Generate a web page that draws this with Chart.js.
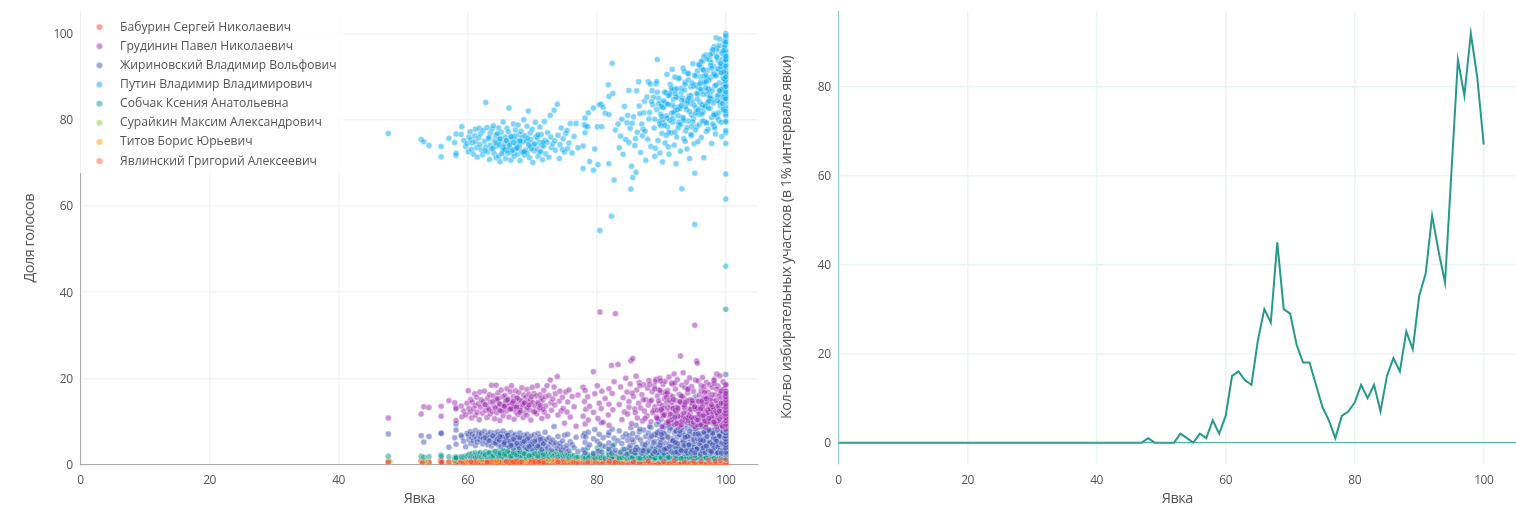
<!DOCTYPE html>
<html><head><meta charset="utf-8">
<script src="https://cdn.jsdelivr.net/npm/chart.js@4"></script>
<style>html,body{margin:0;background:#fff;overflow:hidden}canvas{position:absolute;top:0}#a{left:0}#b{left:770px}</style>
</head><body>
<canvas id="a" width="770" height="520"></canvas><canvas id="b" width="746" height="520"></canvas>
<script>
const names=["Бабурин Сергей Николаевич","Грудинин Павел Николаевич","Жириновский Владимир Вольфович","Путин Владимир Владимирович","Собчак Ксения Анатольевна","Сурайкин Максим Александрович","Титов Борис Юрьевич","Явлинский Григорий Алексеевич"];
const colors=["244,67,54","156,39,176","63,81,181","3,169,244","0,150,136","139,195,74","255,152,0","255,87,34"];
const xTicks=[0,20,40,60,80,100];
const turnout=[
47.7,52.8,53.2,54,55.9,55.9,57.1,58,58.2,58.2,
59.1,58.2,59,59.4,59.7,59.9,60.1,60.2,60.4,60.5,
60.6,60.7,60.9,61.1,61.2,61.2,61.4,61.5,61.7,61.8,
61.9,62,62.1,62.3,62.4,62.6,62.8,62.8,63,63.1,
63.2,63.4,63.5,63.5,63.7,63.8,64,64.1,64.2,64.4,
64.4,64.5,64.7,64.8,64.8,65,65.1,65.2,65.4,65.5,
65.5,65.7,65.8,65.9,66,66.1,66.2,66.3,66.4,66.4,
66.6,66.7,66.8,66.9,67,67.1,67.2,67.2,67.4,67.5,
67.6,67.7,67.8,67.9,68,68,68.1,68.3,68.4,68.5,
68.6,68.7,68.8,68.9,69,69.1,69.2,69.2,69.4,69.5,
69.6,69.7,69.8,69.8,70,70.1,70.2,70.3,70.5,70.6,
70.7,70.8,70.9,71.1,71.2,71.2,71.4,71.5,71.6,71.8,
71.9,72,72.1,72.3,72.4,72.6,72.8,72.9,73,73.2,
73.4,73.5,73.6,73.9,74,74.2,74.3,74.5,74.7,74.8,
75,75.2,75.4,75.5,75.7,75.9,76.2,76.5,76.8,77.1,
77.9,77.9,78.1,78.2,78.2,78.3,78.6,78.7,78.9,79.5,
79.5,79.7,80.1,80.2,80.4,80.5,80.7,80.8,81,81.3,
81.8,81.9,81.9,81.9,82.3,82.4,82.5,82.7,82.9,83.3,
83.5,83.7,83.9,84.1,84.3,84.5,84.7,84.8,85,85,
85.2,85.3,85.4,85.6,85.7,85.9,86.1,86.2,86.3,86.5,
86.6,86.8,87,87.1,87.3,87.4,87.6,87.8,87.9,88,
88.1,88.3,88.4,88.6,88.7,88.9,89,89.2,89.3,89.4,
89.5,89.6,89.7,89.8,89.9,90,90.1,90.2,90.3,90.4,
90.5,90.6,90.8,90.9,91,91.1,91.2,91.3,91.4,91.5,
91.6,91.7,91.8,91.9,92,92.1,92.2,92.3,92.4,92.5,
92.6,92.8,92.9,93,93.1,93.2,93.3,93.4,93.5,93.6,
93.7,93.8,93.9,94,94.1,94.2,94.3,94.4,94.5,94.6,
94.7,94.8,94.9,95,95.1,95.2,95.3,95.4,95.5,95.6,
90.2,90.7,91.2,91.7,92.2,92.7,93.3,93.7,94.2,94.7,
95.7,95.8,95.9,96,96.1,96.2,96.3,96.4,96.5,96.6,
96.7,96.8,96.9,97,97.1,97.2,97.3,97.4,97.5,97.6,
97.7,97.8,97.9,98,98.1,98.2,98.3,98.4,98.5,98.6,
98.7,98.8,98.9,99,99.1,99.2,99.3,99.4,99.5,99.6,
99.7,99.8,99.9,100,100,100,100,100,100,100,
95.2,95.7,96.2,96.7,97.2,97.7,98.2,98.7,99.2,99.7,
95.6,96.1,96.6,97,97.6,98.1,98.6,99.1,99.6,99.9,
95.7,96.2,96.7,97.1,97.7,98.2,98.7,99.2,99.7,99.8,
96.4,96.9,97.3,97.9,98.4,98.9,99.3,99.5,99.8,99.9,
100,100,100,100,100,100,100,100,100,100,
100,100,100,100,100,100,100,100,100,100,
90.1,90.7,91.1,91.7,92.1,92.6,93.1,93.6,94.1,94.6,
87.2,88.2,88.8,89.1,89.3,89.6,89.8,90.4,90.9,91.4,
62.7,63.3,63.9,64.3,64.6,65.3,65.6,66,66.5,66.9,
67.3,67.7,68.2,68.6,69.3,69.9,70.4,70.9,71.3,71.7,
64.9,65,65.7,66.2,66.7,67.1,67.6,68.1,68.8,69.5,
85.5,86,86.7,87.5,88.5,89,89.4,89.9,90.3,90.8,
91,91.3,91.6,91.9,92.1,92.3,92.5,92.8,93,93.2,
93.4,93.6,93.8,94,94.2,94.4,94.6,94.9,95,95.1,
95.3,95.4,95.6,95.8,96,96.2,96.4,96.5,96.6,96.8,
96.9,97,97.1,97.3,97.4,97.5,97.7,97.8,97.9,98,
98.1,98.2,98.3,98.5,98.6,98.7,98.8,98.9,99,99.1,
99.2,99.3,99.4,99.5,99.6,99.7,99.8,99.9,100,100,
95.5,95.9,96.3,96.7,97.2,97.6,98,98.4,98.8,99.2,
99.4,99.6,99.7,99.8,99.9,99.9,100,100,100,100,
90,90.5,91.1,91.8,92.4,92.9,93.5,94.1,94.8,95.3,
92.2,92.6,93.1,93.7,94.3,94.7,95.2,95.7,96.1,96.5,
97,97.4,97.8,98.2,98.6,99,99.3,99.5,99.7,99.8,
100,100,100,100,100,100,100,100,100,100];
const putin=[
76.8,75.4,74.9,74,71.4,73.8,75.7,74.7,71.7,72.2,
78.4,76.7,76.6,75.2,73.8,74.5,72.6,76,77.2,75.4,
73.1,74.6,72,76.3,77.8,74.9,73.5,71.3,75.8,78,
74.2,76.7,73,71.9,77.5,75,84,73.7,78.2,72.5,
75.6,70.8,76.9,74.1,73.2,77.9,78.6,72.2,75.3,71.2,
76.4,73.9,74.8,71.6,78.1,70.3,75.5,77.1,73.4,72.7,
79.5,74.4,76,71,75.1,78,72.9,77.2,82.7,73.6,
74.6,70.6,76.2,72.3,75.7,79,73.1,71.5,77.6,74.3,
75.2,72,78.8,73.5,74.1,76.5,70.5,77.3,72.6,75.9,
74.9,80,71.8,76.3,73,75,78.5,72.2,82,74.5,
71.2,76.9,73.7,75.4,77.8,70.1,74.2,72.8,79.4,76.1,
73.3,75.8,71.5,74.7,78.3,72.4,76.6,74,70.7,73.9,
79.6,75.2,72.1,74.8,77,71.3,81,76,73.5,74.4,
82.2,75.1,72.9,83.6,76.4,71,74.2,78.1,73.1,75.6,
72.5,76.8,77.5,73.3,74.6,79.1,72.3,76.1,79.1,73.5,
68.7,73.9,78.9,80.4,77,78.5,78.4,81.6,70.3,82.7,
68.3,73.2,78.4,69.6,83.5,54.3,83.6,78.4,82.9,81.5,
88.1,85.4,81.2,69.8,57.6,93.1,86.1,66,77.6,79,
73.5,76.2,80.1,72,83.1,75.4,79.3,81,86.8,74.7,
78,63.9,69.2,66.6,80.7,74,67.8,86.7,77.1,88.8,
83.2,72.4,79,76.3,81.6,84.3,70.6,85.3,75.5,88.8,
80.2,88.3,73.8,86.7,83.5,78.1,71.5,88.3,82.4,94,
75.2,85,79.6,72.3,81.3,84,76.8,70.2,82.8,79.2,
86.4,74.6,80.9,90.5,78.3,83.6,72,85.7,88.2,76.9,
81.5,91.7,79.4,84.7,74.1,87,82.2,69.8,76,85.2,
89.6,78.8,83,72.7,86.3,64,80.6,92,75.6,84.2,
88.7,77.4,82.4,73.2,90.8,79.7,85.5,71,83.8,87.6,
76.3,84.5,93,80.3,74.4,55.7,88.1,82.7,78.4,91.3,
80,83.9,77.1,86.8,82.9,79.4,85.1,75,89.2,81.1,
87.5,92.8,78.9,84,90,75.9,86.7,93.5,81.8,71.2,
88.9,83.3,95,79.2,85.9,91.5,77.8,87.2,94,82.6,
89.8,74.5,96,84.7,92.4,81.4,87.9,76.7,99,90.3,
85.4,93.8,79.9,88.5,98.7,83.1,91,76.1,95.9,86.2,
89.4,97.3,82.5,100,98.2,95.6,93.2,90.7,88,85.8,
67.6,74.9,82.8,90.1,86.6,93.3,78.5,96.7,84.3,91.9,
81.9,88.7,94.6,77.3,85.6,90.9,96.2,83.9,87.4,94.9,
86,92.1,79.6,89.7,84.9,97,80.6,92.9,88.4,93.6,
83.5,90.4,87.1,95.3,81.2,91.6,86.9,94.1,85.2,89.1,
61.6,67.4,46,77,79.5,81.4,83,84.2,85.5,86.8,
88,89.2,90.4,91.5,92.7,93.8,95,96.1,97.5,99,
80.8,86.3,73.7,83.4,89.9,78,87.3,91.2,84.6,76.6,
77.8,81.7,85.2,73.4,88.9,83.7,79.1,84.4,80.4,86.1,
72.8,75.9,73.4,74.6,76.8,72.1,73.7,75.2,74.1,72.9,
76.2,73.6,74.9,72.4,75.7,73.2,74.4,76.5,72.7,74.8,
74.2,75.6,73.1,72.3,76,74.7,73.3,75.1,72.6,74,
79.2,75.6,81.4,77.3,84.2,80.1,86.4,78.6,82.9,76.4,
83.6,79.8,87.3,81.7,77.1,85.2,82.3,89.6,78.9,84.5,
80.4,86.9,83,78.2,90.7,81.9,85.6,79.5,87.8,83.4,
77.6,90.1,84.8,81.2,88.3,93.6,79.7,85.9,91.4,83.1,
87.4,79.3,94.1,82.7,89.2,85.1,92.6,80.5,86.7,96.3,
83.9,90.5,78.1,88,94.8,84.4,91.8,81.6,97.2,86.5,
92.3,79.4,95.4,85.3,89.7,82.1,98.1,87.6,94.2,90.8,
86.1,92.7,81.3,88.6,84,95.1,79,90.2,85.7,93.1,
87,82.4,91.1,96.9,84.7,89,77.5,93.9,86.4,81,
83.1,78.7,85.6,80.3,87.2,82.6,79.8,84.1,88.5,81.5,
86,80.9,83.3,88.2,85,78.4,90.3,82.2,87.1,91.6,
88.8,84.3,92,81.1,94.5,86.8,90.9,83.7,96,89.5,
74.5,79.6,82,84.9,87.7,89.9,92.4,94.7,98,99.5];
const grudinin=[
10.8,11.7,13.4,13.2,13.5,11.2,14.8,14.3,13.2,12.9,
11.1,10.2,13.6,12.4,11.5,14.2,17.1,13,12.2,15.1,
10.8,14.5,12.9,16.4,13.7,11.4,15.6,12.1,14.1,10.4,
16.8,13.3,15,11.9,14.6,17,12.6,13.8,10.9,15.4,
13.1,16.2,11.7,14.4,18.4,12.3,15.9,13.5,10.6,18.4,
14.9,12,16.6,13.2,15.3,10.2,14,17.3,12.7,15.7,
11.3,13.9,16,14.7,12.4,17.6,13.4,15.2,11,14.3,
16.9,12.8,18.3,14.5,13,15.8,10.5,13.6,17.1,12.2,
15.5,14.1,11.6,16.7,13.3,15,12.5,14.8,17.8,13.7,
10.9,16.1,14.2,12,15.6,13.1,17.4,11.4,14.6,16.3,
12.7,15.1,13.9,10.3,17.9,14.4,12.3,16.5,13.5,15.9,
11.8,18.3,14,12.9,16.2,13.2,15.4,10.7,14.9,17.2,
12.1,15.7,13.6,18.3,11.2,16,19.6,14.3,12.6,15.2,
18,13.8,16.4,20.4,11.5,14.7,17,12.4,15.6,13,
9.6,16.8,12.2,14.5,17.3,11,15.8,13.4,8.9,16.1,
17.9,11.2,14.6,9.4,17.2,12.8,15.7,10.3,13.5,21.5,
12.1,16.4,18.3,10.7,14.2,35.4,13,17,9.8,15.3,
11.5,17.6,14,9.1,23,16.5,12.7,19.2,35,23.2,
13.9,18,10.4,15.5,12.2,20,16.8,11.7,14.6,13.3,
18.7,24.1,9.5,24.6,15.8,12.9,20.5,17.3,10.8,14.2,
19,13.1,16.2,10.1,18.5,12.4,15,11.3,17.7,13.8,
19.5,14.7,9.9,16.9,12,18.2,13.4,19.8,11.1,15.9,
10.6,17.4,14.1,20,12.6,16.7,8.8,13.7,18.6,11.5,
15.2,19.3,9.7,14.4,17.1,12.3,20.3,10.9,16,13.6,
18.9,11.8,15.7,13,21,9.3,17.5,14.8,10.2,19.7,
12.5,16.3,8.9,25.2,14.1,18.4,11.6,21.3,15.4,13.2,
17.8,10.5,19.1,12.2,16.6,9.6,14.9,20.1,11.9,15.1,
18.1,13.5,10.7,17,12.8,32.3,19.6,14.6,24,23.5,
12,16.8,9.4,18.7,13.3,11.2,15.8,10,17.6,14.2,
19.4,12.7,16.1,9.2,14.8,18.3,11,20.2,13.6,15.5,
10.3,17.2,12.1,19,14.3,9.8,16.7,11.5,18.5,13.1,
15.4,10.6,17.9,12.4,14.7,19.8,9.5,16.2,11.3,21,
13.9,18.2,10.1,15.9,20.6,12.6,17.3,9,14.4,19.2,
11.7,16.5,13.2,18.5,12,9.6,15.1,10.4,16.8,14,
8.8,12.3,17.1,10.7,15.6,13.5,19.5,11,16.4,14.6,
9.2,13.8,18.1,11.9,15,10.2,17.5,12.8,14.2,16,
10.9,13.1,16.7,9.9,12.5,18.8,11.4,15.3,13.4,17.6,
14.9,9.4,12.9,16.2,10.5,14.1,17,11.8,15.7,13,
8.2,9,9.8,10.6,11.4,12.2,13,13.8,14.6,15.4,
16.2,17,18.5,9.4,10.2,11,11.8,12.6,13.4,14.2,
12.4,16.3,9.7,14.5,18.9,11.2,15.9,13.3,17.4,10.3,
15,18.6,12.5,19.3,10.8,14.8,17.2,13.1,16.6,11.6,
13.9,12.7,14.6,13.1,15.2,12.4,13.6,14.9,12.9,14.2,
13.4,15.4,12.6,14,13.2,15.7,12.2,14.4,13.7,12.8,
14.1,12.5,13.5,15,12.9,14.7,13.3,12.1,14.3,13.8,
16.6,12,18.3,10.7,14.9,17.5,12.6,19.4,11.3,15.6,
13.2,14.9,10.4,15.1,11,12.2,13.3,9.6,14.5,10.1,
11.1,13.8,10.7,14.7,10.2,12.9,12.8,14.2,9.8,13.3,
12.9,10.5,13.1,14.7,11.1,9.3,13.6,12.7,11.6,15.3,
8.6,14.4,11.6,12.1,13.4,10,13.3,10.6,11.2,12.2,
9.9,13.1,12.7,14.9,8.7,11.7,11.4,10.2,13.1,10.6,
12.7,12.3,9.1,13.6,14.1,10.8,11.2,12.5,13.8,9.6,
10.4,11.7,14.6,10.1,12.6,12.9,13.4,9.4,13.5,11.8,
11,14.3,9.7,13.1,12.2,8.9,12,10.5,11.4,13.7,
12.8,11.5,10,13,9.5,14.6,12,10.8,14.8,10.9,
12.6,13,9.2,14.4,11.3,10.9,13.4,10.3,12.9,11.3,
15.3,10.7,13.9,9.8,12,12.4,14.2,8.8,11.5,11.8,
9.3,10.1,10.9,11.7,12.5,13.3,14.1,14.9,15.7,16.5];
const zhirinovsky=[
7.1,6.7,5.2,6.5,7.3,7.2,4,6.2,9.4,8,
6.4,4.7,6.8,5.4,4.1,7.2,6.9,5.8,7.6,4.9,
6.3,7.1,5.5,6.6,4.4,7.9,6,5.2,6.9,7.4,
5.7,6.4,7.2,4.8,6.1,7.7,5.3,6.7,5.9,4.6,
7,6.3,5.6,7.5,4.3,6.5,5.1,7.3,6.2,4.9,
5.4,6.8,7.6,4.5,6,5.7,7.1,4.2,6.6,5.2,
7.8,4.7,6.3,5.5,7.2,4.4,6.9,5.9,4.1,6.1,
5,7.4,4.8,6.4,5.6,3.8,6.7,5.3,7,4.6,
6.2,5.1,4.3,6.5,5.7,3.9,7.3,4.9,6,5.4,
4.5,6.8,5.2,4,6.3,5.8,3.7,7,4.7,5.5,
6.1,4.2,5,6.6,3.6,5.3,4.8,6.9,4.4,5.9,
3.9,5.6,7.2,4.6,6.4,4.1,5.1,3.5,6,4.9,
5.4,7.5,4.3,5.8,3.8,6.2,4.7,5.2,3.4,5.7,
8.8,4.5,5,3.7,6.5,4.2,4.9,3.3,5.5,4,
6.8,3.6,4.4,7,3.2,5.3,4.6,3.9,6.3,3,
3.4,6.6,7.2,5.1,2.7,6.4,3.9,7.5,4.6,2.5,
6,8.1,5.4,3.1,7,4.7,9.7,2.9,6.2,4.2,
6.8,3.6,7.4,5,2.6,8.2,4.3,6.1,3.3,5.5,
7.8,2.8,4.9,6.4,3.5,7.1,2.4,5.6,3.9,6.7,
4.4,8.5,3,7.2,5.2,2.7,9.1,4,6.3,3.4,
7.6,5.7,2.6,4.7,8,3.7,6.5,2.9,5,7.3,
3.2,6.1,8.6,4.2,2.5,7,5.4,3.6,9.3,6.8,
4.5,2.8,7.8,5.9,3.3,10.5,6.2,4.1,8.3,2.6,
7.1,5,3.5,9,6.6,2.9,4.6,7.9,5.5,3.1,
8.7,6,2.7,10.3,4.3,7.3,5.2,3.8,9.5,6.4,
2.5,8.1,4.9,6.9,3.4,11,5.7,7.5,3,9.2,
4.4,6.3,2.8,8.4,5.1,10.6,3.7,7,5.9,2.6,
9.7,4.7,6.7,3.2,8,5.4,15.7,2.9,7.4,4.1,
6.1,9,3.5,5.6,7.7,2.7,10,4.8,6.5,8.3,
3.3,5.3,11.5,7.2,2.4,9.4,4.5,6.8,3.8,8.6,
5.8,2.9,10.4,6.2,4.2,7.6,3.1,9.8,5,12.2,
2.6,7.9,4.6,6.4,11,3.4,8.2,5.5,2.8,9.6,
6.7,4,13,7.3,3.2,10.2,5.2,8.8,2.5,6,
4.7,11.8,7.5,3.6,20.9,14,5.6,8.4,2.9,10.6,
6.9,3.9,9.2,5.3,7.8,2.7,12.6,4.4,8,6.3,
3.5,10.9,5.9,7.1,2.6,9.4,4.9,6.6,11.4,3,
8.6,5.1,7.4,3.7,10,6.1,2.8,8.9,4.3,12.4,
5.7,9.8,3.3,7,4.6,11.2,6.4,2.7,8.2,5.2,
2.2,3,3.8,4.6,5.4,6.2,7,7.8,8.6,9.4,
10.2,11,12,13,2.6,3.4,4.2,5,5.8,6.6,
7.4,3.6,9,5.5,11.3,4.2,8,6.8,2.6,10.1,
3.2,8.8,5.1,6.9,2.7,9.9,4.4,7.2,3.7,8.4,
6.2,5.5,6.7,5,5.9,6.4,4.7,6.1,5.3,4.5,
5.7,6.3,4.9,5.2,6,4.6,5.4,4.3,5.8,4.8,
5.6,6.5,5.1,6.8,4.4,5.9,4.9,6.2,5.4,4.2,
5.8,3.4,8.2,4.6,6.6,3,7.4,5.1,8.8,3.7,
6.3,4.2,9.5,5.6,2.8,7.8,4.9,6.9,3.5,8.5,
5.3,10.2,3.2,6.6,4.5,7.6,2.9,9.1,5.8,4,
7.1,3.6,6,8.7,4.8,10.8,3.1,5.5,7.5,2.7,
9.3,4.3,6.5,3.4,8.1,5.2,11.6,2.8,7.2,4.7,
6.2,3.8,9.9,5.7,2.6,7.9,4.1,12,6.8,3.3,
8.4,5,3,7.7,10.6,4.5,6.4,2.9,9,5.4,
3.6,6.7,8.9,4.2,11.8,3.1,7.3,5.9,2.7,9.6,
4.9,7.5,3.4,6.1,10.3,8.2,2.8,5.2,12.8,4,
7,3.5,9.2,5.5,2.9,7.7,4.4,6.5,3.3,8.3,
5.1,8.6,3.2,6.3,4.6,9.4,2.7,7.1,5.7,3.9,
4.3,7.9,3,10.1,5.4,6.6,2.6,8.7,4.8,11.1,
3.8,4.5,5.2,5.9,6.6,7.3,8,8.7,9.5,11.8];
const sobchak=[
1.9,1.9,1.7,1.8,2.2,1.9,1.8,1.6,1.8,1.7,
1.6,1.5,1.8,1.7,2,1.9,2.1,2.3,1.8,2.4,
1.9,2.5,2,2.2,1.7,2.7,2.3,1.9,2.6,2,
2.4,2.8,1.8,2.2,2.5,1.9,2.9,2.1,2.4,1.7,
2.6,2,2.3,2.8,1.8,2.5,2.2,3,1.9,2.4,
2.7,2,2.2,3.2,1.8,2.5,2.9,2.1,2.4,1.7,
3.3,2.3,2.6,4.7,2,2.8,2.2,1.9,3.1,2.5,
2.1,4.2,2.7,2.4,1.8,3.5,2.2,2.9,2,2.6,
3.8,2.3,2.5,1.9,3.1,2.7,2.1,4.4,2.4,2,
2.8,3.3,2.2,2.6,1.8,3,2.4,2.9,3.6,2.1,
2.5,3.9,2.2,2.8,1.9,3.2,2.4,4,2.6,2.1,
3.4,2.3,2.9,2,3.7,2.5,2.2,3.1,2.7,1.8,
2.4,3.3,2.1,2.8,2.5,1.9,3,2.3,2.6,2,
2.7,2.2,3.1,2.4,1.8,2.6,2.1,2.9,2.3,1.9,
2.5,2,2.7,2.2,1.7,2.4,1.9,2.1,1.6,1.8,
1.9,1.6,2.1,1.4,3.2,1.7,2.3,1.5,2,1.8,
2.6,1.5,3.8,1.7,2.4,3.3,1.6,4.3,2,1.4,
2.8,1.6,3.5,2.2,1.5,3,1.8,4.7,2.5,1.7,
1.5,2.9,1.6,3.6,1.9,2.3,1.4,3.2,1.7,2.6,
1.5,3.4,2,1.6,2.7,1.4,3.9,1.8,2.2,1.5,
2.9,1.6,3.3,2,1.5,2.4,1.7,3.7,1.4,2.6,
1.8,3,1.5,2.2,3.5,1.6,2.7,1.9,1.4,3.1,
1.7,2.4,1.5,3.8,2,1.6,2.8,1.4,2.2,3.3,
1.5,1.8,2.6,1.4,3.6,2.1,1.6,2.9,1.7,2.4,
3.1,1.5,2,4,1.6,2.5,1.4,3.4,1.8,2.2,
1.5,2.8,1.7,3.7,1.4,2.3,1.9,3,1.6,2.6,
4.3,1.5,2.1,1.7,3.2,1.4,2.4,1.8,2.9,1.6,
3.5,2,1.5,2.7,1.4,4.6,2.2,1.7,3.1,1.6,
2.5,1.4,3.3,1.8,2.1,1.5,2.8,1.7,3.8,1.6,
2.3,1.5,3,1.9,4.2,1.4,2.6,1.7,3.4,2,
1.5,2.9,1.6,5,1.4,2.4,3.6,1.8,2.2,4.5,
1.5,2.7,1.7,3.2,1.4,5.4,2,3.9,1.6,2.5,
4.8,1.4,3,1.8,6.2,2.3,1.5,3.5,1.7,2.8,
1.4,4.1,2.1,36,11,8.5,7,5.5,4.2,3.1,
1.6,2.6,1.4,3.7,1.8,4.6,2.2,1.5,3.2,5.8,
1.7,2.4,1.4,4,2,1.6,3,1.5,2.7,3.5,
1.8,5.2,1.5,2.2,3.8,1.4,2.9,1.7,4.4,2.5,
1.6,3.3,1.5,2,4.9,1.4,2.6,1.8,3.6,6.6,
1.2,1.6,2,2.4,2.8,3.2,3.6,4,4.4,4.8,
5.2,5.6,6,6.5,7.5,9.5,1.4,1.8,2.2,2.6,
1.5,3.1,1.7,4.1,1.4,2.5,1.9,3.4,1.6,2.1,
3,1.6,2.4,1.4,3.7,1.8,2.2,1.5,2.8,1.7,
2.3,2.7,2,3,2.5,1.9,3.2,2.2,2.6,2.1,
2.4,2.9,2,2.6,3.4,2.2,2.5,1.9,2.8,2.3,
2.1,2.6,2.4,3.1,1.9,2.7,2.2,3,2.5,2,
1.6,2.6,1.4,3.5,1.8,1.5,2.3,1.7,3,1.4,
2.1,1.5,3.3,1.7,2.5,1.4,3.9,1.6,2,2.8,
1.5,3.6,1.8,1.4,2.7,1.6,4.4,2.2,1.5,3.1,
1.7,2.4,1.4,3.8,1.6,2,5.1,1.5,2.9,1.8,
1.4,3.3,2.3,1.6,4.6,1.5,2.6,1.7,3.7,1.4,
2.1,5.6,1.5,2.8,1.7,4,1.4,3.2,2.4,1.6,
3.5,1.5,2,6.4,1.7,2.7,4.3,1.4,1.9,3,
1.6,2.5,3.9,1.5,2.2,1.8,5.3,3.4,1.4,2.9,
1.7,4.9,1.5,2.4,3.1,2,7.2,1.6,3.7,2.6,
1.5,2.2,1.7,3.3,1.4,2.8,1.6,3.9,2,1.5,
1.8,3,1.4,2.5,4.2,1.6,2.1,3.6,1.5,2.7,
1.6,4.7,2,1.4,3.2,2.6,1.7,5.7,1.5,2.3,
2.4,2.9,3.4,3.9,4.4,4.9,5.5,6,8,10];
const yavlinsky=[
.7,.8,.6,.5,.9,.5,.6,.9,.5,.7,
.6,.4,.8,.5,.4,1,.7,.5,1,.6,
.8,.4,1.1,.6,.9,.5,1,.7,.4,1.1,
.6,.9,.5,1.2,.7,.4,1,.8,.5,1.1,
.6,.9,1.3,.5,.8,.4,1.1,.7,1,.5,
1.2,.6,.9,.4,1.3,.7,1,.5,1.1,.8,
.5,1.3,.7,1,.4,1.2,.6,.9,1.4,.5,
1.1,.8,.4,1.3,.6,1,.7,1.2,.5,.9,
1.5,.6,1.1,.4,1.3,.8,1,.5,1.4,.7,
1.2,.5,.9,1.5,.6,1.1,.4,1.3,.8,1,
.5,1.4,.7,1.2,.4,1,.8,1.3,.5,1.1,
.6,1.4,.9,.4,1.2,.7,1,.5,1.3,.8,
.5,1.1,.6,1.3,.9,.4,1.2,.7,1,.5,
1.1,.6,.9,.4,1.2,.7,1,.5,.8,1.1,
.6,.9,.4,1,.7,.5,.8,.4,.6,.5,
.8,.5,1,.6,.9,.4,1.1,.7,.5,1,
.4,.8,1.2,.6,.9,.5,1.1,.7,.4,1,
.8,.5,1.2,.6,.9,.4,1.1,.7,.5,1,
.6,1.2,.4,.9,.7,1.1,.5,1,.8,.4,
1.2,.6,.9,.5,1.3,.7,.4,1,.8,1.1,
.5,.9,.6,1.2,.4,1,.7,1.1,.5,.8,
1.3,.6,.9,.4,1.1,.7,1,.5,1.2,.8,
.5,1,.7,1.3,.4,.9,.6,1.1,.8,.5,
1.2,.7,.9,.4,1,.6,1.3,.5,.8,1.1,
.6,.9,.5,1.2,.7,.4,1,.8,1.4,.5,
.9,.6,1.1,.4,1.3,.7,1,.5,.8,1.2,
.6,1.4,.5,.9,.7,1.1,.4,1,.6,1.3,
.8,.5,1.1,.7,.4,1.5,.9,.6,1,1.2,
.5,.8,1.3,.6,1,.4,1.1,.7,.9,.5,
1.2,.6,.9,.4,1,.7,1.4,.5,.8,1.1,
.6,1.3,.4,.9,.7,1,.5,1.2,.8,.4,
1,.6,1.1,.5,.9,1.3,.7,.4,.8,1,
.5,1.2,.6,.9,.4,1.1,.7,1,.5,.8,
1.2,.4,.9,.6,1,.3,1.2,.7,.5,.9,
.6,1,.4,.8,1.1,.5,.9,.7,1.2,.4,
.8,.5,1,.6,1.1,.4,.9,.7,.5,1.2,
.6,1,.8,.4,1.1,.5,.9,.7,1,.4,
.7,1.1,.5,.9,.6,1,.4,.8,1.2,.5,
.3,.5,.7,.9,1.1,1.3,.4,.6,.8,1,
1.2,.2,.5,.7,.9,1.1,.4,.6,.8,1,
.6,.9,.4,1.2,.7,1,.5,.8,1.1,.6,
.9,.5,1.1,.7,.4,1.2,.6,1,.8,.5,
1,.6,1.3,.8,.5,1.1,.7,1.2,.4,.9,
.6,1.4,.8,1,.5,1.2,.7,1.3,.9,.4,
1.1,.7,.5,1.3,.9,.6,1.2,.4,1,.8,
.7,1.1,.5,.9,1.3,.6,1,.4,.8,1.2,
.5,1,.7,1.2,.4,.9,.6,1.1,.8,1.3,
.7,.4,1,.6,1.2,.8,.5,1.1,.9,.4,
1.3,.6,.9,.5,1.1,.7,1.2,.4,1,.8,
.6,1.1,.8,.4,1,.7,1.3,.5,.9,.6,
1.2,.4,.8,1,.6,1.1,.5,.9,.7,1.3,
.5,.9,.7,1.2,.4,1,.6,.8,1.1,.3,
.9,.6,1.1,.5,1.3,.7,1,.4,.8,1.2,
.6,1,.4,.8,1.2,.7,.5,1.1,.9,.4,
1.1,.6,.9,.5,1,.7,1.3,.4,.8,1.2,
.8,1.2,.5,1,.7,.9,.4,1.1,.6,1.3];
const baburinX=[47.7,53,56,60.5,63,66,68.4,71,74,78.6,82,85.7,88,90.4,92,93.6,95,96.2,97.3,98.4,99.2,100];
const baburin=[.5,.4,.5,.6,.5,.7,.6,.5,.6,.5,.7,.6,.8,.7,.9,.6,.8,.7,1,.8,.9,1.1];
const surajkinX=[48,53.4,58,62.2,65.7,68.9,72.5,75.6,78.2,79.4,80.5,81.9,83.1,84,85.2,86,87.1,88.6,89.2,90.3,90.8,91.2,91.7,92.4,92.8,93.3,93.8,94.1,94.6,95,95.3,95.6,96.1,96.4,96.8,97.2,97.5,97.9,98.3,98.7,99,99.4,99.8,100,100];
const surajkin=[.7,.8,.9,1,.9,1.2,1.1,1.2,1.7,2.1,1.3,2.6,2,1.5,1.6,2.2,1.4,2.1,2.7,1.8,2.3,2.5,1.6,1.7,2.9,2.3,1.6,1.9,3.1,2.8,1.9,2.1,1.8,3,2.6,2.2,1.6,3,1.9,2.5,2.4,1.7,2.7,2,3.2];
const titovX=[53,60,64.5,69,73,77.2,79,82,84.5,86.4,88.9,90.5,91,91.6,92.2,92.7,93.5,94,94.4,95.2,95.9,96.5,97.1,97.8,98.2,98.9,99.5,100];
const titov=[.6,.7,.9,.8,1,1.4,.9,1.6,1.2,1.5,1.1,1.7,2.4,2,1.6,1.4,2.2,2.8,1.6,2.6,1.8,2.3,1.5,2.8,1.9,2.4,1.7,2.1];
const zeroX=[0,105];
const zeroY=[0,0];
const hist=[0,0,0,0,0,0,0,0,0,0,0,0,0,0,0,0,0,0,0,0,0,0,0,0,0,0,0,0,0,0,0,0,0,0,0,0,0,0,0,0,0,0,0,0,0,0,0,0,1,0,0,0,0,2,1,0,2,1,5,2,6,15,16,14,13,23,30,27,45,30,29,22,18,18,13,8,5,1,6,7,9,13,10,13,7,15,19,16,25,21,33,38,51,43,36,61,86,78,92,82,67];

const FONT='"Open Sans"', TXT='#555';
const pts=(xs,ys)=>ys.map((y,i)=>({x:xs[i],y}));
const series=[pts(baburinX,baburin),pts(turnout,grudinin),pts(turnout,zhirinovsky),pts(turnout,putin),pts(turnout,sobchak),pts(surajkinX,surajkin),pts(titovX,titov),pts(turnout,yavlinsky)];
const icons=colors.map(c=>{const k=document.createElement('canvas');k.width=k.height=8;const g=k.getContext('2d');g.fillStyle=`rgba(${c},.5)`;g.beginPath();g.arc(4,4,3,0,7);g.fill();return k;});
const tick={font:{family:FONT,size:12},color:TXT,autoSkip:false,includeBounds:false,maxRotation:0,padding:8};
const xTick={...tick,padding:9};
const yTick={...tick,stepSize:20,labelOffset:1};
const ttl=(t,pad)=>({display:true,text:t,color:TXT,font:{family:FONT,size:14.5},padding:pad});
const tight={id:'tight',beforeDraw(c){c.ctx.letterSpacing='-0.5px';}};
const noPadY=s=>{s.paddingTop=0;s.paddingBottom=0;};
const noPadX=s=>{s.paddingLeft=0;s.paddingRight=0;};
const legendPlace={id:'legendPlace',
 beforeInit(c){const l=c.legend;l._layers=()=>[{z:1,draw:a=>l.draw(a)}];const d=l.draw;
  l.draw=function(){const g=c.ctx;g.save();g.letterSpacing='0px';g.fillStyle='rgba(255,255,255,.8)';g.fillRect(76,10,267,163);d.call(l);g.restore();};},
 afterLayout(c){const l=c.legend;l.left=78;l.top=14;l.right=345;l.bottom=464;}};
new Chart(document.getElementById('a'),{type:'scatter',
 data:{datasets:names.map((n,i)=>({label:n,data:series[i],clip:0,backgroundColor:`rgba(${colors[i]},${i===7?.78:.5})`,borderColor:`rgba(255,255,255,${i===7?.3:.5})`,borderWidth:.7,pointRadius:3,pointHoverRadius:3}))},
 plugins:[legendPlace,tight],
 options:{responsive:false,animation:false,layout:{padding:{left:21,right:12,top:12,bottom:12}},
  plugins:{tooltip:{enabled:false},legend:{position:'chartArea',align:'start',labels:{font:{family:FONT,size:12.15},color:TXT,usePointStyle:true,pointStyleWidth:29,padding:7,
    generateLabels:c=>Chart.defaults.plugins.legend.labels.generateLabels(c).map((it,i)=>({...it,pointStyle:icons[i],lineWidth:0}))}}},
  scales:{
   x:{type:'linear',min:0,max:105,afterBuildTicks:s=>{s.ticks=xTicks.map(v=>({value:v}))},afterFit:s=>{s.height=43.5;noPadX(s)},grid:{color:'#f3f3f3',lineWidth:1.5,drawTicks:false},border:{color:'#aaa',width:1},ticks:xTick,title:ttl('Явка',{top:6,bottom:0})},
   y:{type:'linear',min:0,max:105,afterFit:s=>{s.width=59.5;noPadY(s)},grid:{color:'#f3f3f3',lineWidth:1.5,drawTicks:false},border:{color:'#aaa',width:1},ticks:yTick,title:ttl('Доля голосов',{top:0,bottom:8})}
  }}});
new Chart(document.getElementById('b'),{type:'line',
 data:{datasets:[
  {label:'zero',data:pts(zeroX,zeroY),borderColor:'#3aa99b',borderWidth:1,pointRadius:0},
  {label:'hist',data:hist.map((y,x)=>({x,y})),borderColor:'#26998a',borderWidth:2,pointRadius:0,tension:0}]},
 plugins:[tight],
 options:{responsive:false,animation:false,layout:{padding:{left:8,right:0,top:11,bottom:12}},
  plugins:{tooltip:{enabled:false},legend:{display:false}},
  scales:{
   x:{type:'linear',min:0,max:105,afterBuildTicks:s=>{s.ticks=xTicks.map(v=>({value:v}))},afterFit:s=>{s.height=44;noPadX(s)},grid:{color:'#e9f6f3',lineWidth:1.5,drawTicks:false},border:{display:false},ticks:xTick,title:ttl('Явка',{top:6,bottom:0})},
   y:{type:'linear',min:-4.8,max:97,afterFit:s=>{s.width=60.5;noPadY(s)},grid:{color:'#e9f6f3',lineWidth:1.5,drawTicks:false},border:{color:'#80d0c4',width:1},ticks:yTick,title:ttl('Кол-во избирательных участков (в 1% интервале явки)',{top:0,bottom:8})}
  }}});
</script>
</body></html>
